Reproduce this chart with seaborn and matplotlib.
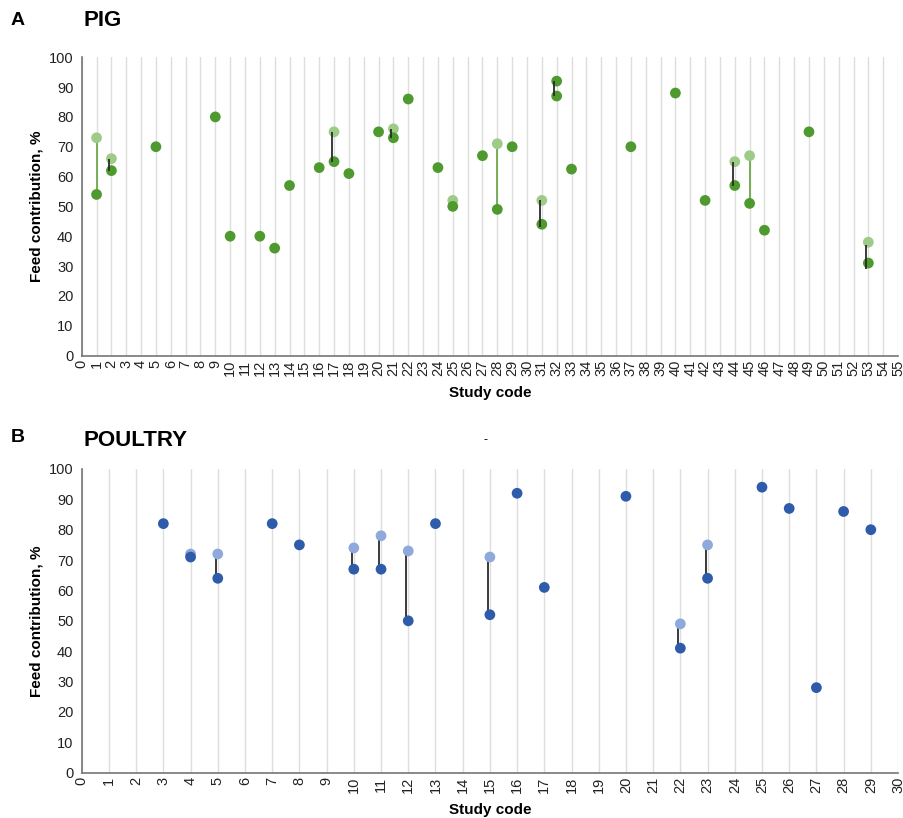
import numpy as np
import pandas as pd
import seaborn as sns
import matplotlib.pyplot as plt

# ---- PIG data (study code, feed contribution %) ----
pig_codes = [1, 2, 5, 9, 10, 12, 13, 14, 16, 17, 18, 20, 21, 22, 24, 25, 27, 28, 29,
             31, 32, 32, 33, 37, 40, 42, 44, 45, 46, 49, 53]
pig_values = [54, 62, 70, 80, 40, 40, 36, 57, 63, 65, 61, 75, 73, 86, 63, 50, 67, 49, 70,
              44, 87, 92, 62.5, 70, 88, 52, 57, 51, 42, 75, 31]
pig_alt_codes = [1, 2, 17, 21, 25, 28, 31, 44, 45, 53]
pig_alt_values = [73, 66, 75, 76, 52, 71, 52, 65, 67, 38]
pig_link_codes = [1, 2, 17, 21, 28, 31, 32, 44, 45, 53]
pig_link_lo = [54, 62, 65, 73, 49, 43, 87, 57, 51, 29]
pig_link_hi = [73, 66, 75, 76, 71, 52, 92, 65, 67, 37]
pig_link_black = [False, True, True, True, False, True, True, True, False, True]

# ---- POULTRY data ----
poultry_codes = [3, 4, 5, 7, 8, 10, 11, 12, 13, 15, 16, 17, 20, 22, 23, 25, 26, 27, 28, 29]
poultry_values = [82, 71, 64, 82, 75, 67, 67, 50, 82, 52, 92, 61, 91, 41, 64, 94, 87, 28, 86, 80]
poultry_alt_codes = [4, 5, 10, 11, 12, 15, 22, 23]
poultry_alt_values = [72, 72, 74, 78, 73, 71, 49, 75]
poultry_link_codes = [5, 10, 11, 12, 15, 22, 23]
poultry_link_lo = [64, 67, 67, 50, 52, 41, 64]
poultry_link_hi = [72, 74, 78, 73, 71, 49, 75]

GREEN_DARK = '#4f9a2f'
GREEN_LIGHT = '#9fcb88'
GREEN_LINE = '#6fa84c'
BLUE_DARK = '#2f5caa'
BLUE_LIGHT = '#8fa9dc'
LINK_BLACK = '#2b2b2b'

sns.set_style('white')
plt.rcParams['font.family'] = ['Liberation Sans', 'DejaVu Sans']
plt.rcParams['text.color'] = 'black'
plt.rcParams['axes.labelcolor'] = 'black'
plt.rcParams['xtick.color'] = '#222222'
plt.rcParams['ytick.color'] = '#222222'

fig = plt.figure(figsize=(9.04, 8.18), dpi=100)
ax1 = fig.add_axes([0.0904, 0.5654, 0.9030, 0.3646])
ax2 = fig.add_axes([0.0904, 0.0554, 0.9030, 0.3713])


def style_axis(ax, xmax):
    ax.set_xlim(0, xmax)
    ax.set_ylim(0, 100)
    ax.set_yticks(np.arange(0, 101, 10))
    ax.set_xticks(np.arange(0, xmax + 1))
    ax.set_xticklabels([str(i) for i in range(xmax + 1)], rotation=90, fontsize=10.5)
    ax.tick_params(axis='y', labelsize=10.5, length=0, pad=6)
    ax.tick_params(axis='x', length=0, pad=3)
    ax.grid(axis='x', color='#dedede', linewidth=1)
    ax.grid(axis='y', visible=False)
    ax.set_axisbelow(True)
    for s in ['top', 'right']:
        ax.spines[s].set_visible(False)
    for s in ['left', 'bottom']:
        ax.spines[s].set_color('#767676')
        ax.spines[s].set_linewidth(1.2)
    ax.set_xlabel('Study code', fontsize=11, fontweight='bold', labelpad=7)
    ax.set_ylabel('Feed contribution, %', fontsize=11, fontweight='bold', labelpad=4)


# PIG panel
for c, lo, hi, blk in zip(pig_link_codes, pig_link_lo, pig_link_hi, pig_link_black):
    if blk:
        ax1.vlines(c - 0.15, lo, hi, color=LINK_BLACK, linewidth=1.3, zorder=4)
    else:
        ax1.vlines(c, lo, hi, color=GREEN_LINE, linewidth=1.3, zorder=2)
sns.scatterplot(x=pig_alt_codes, y=pig_alt_values, ax=ax1, color=GREEN_LIGHT, s=60,
                edgecolor='none', zorder=3)
sns.scatterplot(x=pig_codes, y=pig_values, ax=ax1, color=GREEN_DARK, s=60,
                edgecolor='none', zorder=3)
style_axis(ax1, 55)

# POULTRY panel
for c, lo, hi in zip(poultry_link_codes, poultry_link_lo, poultry_link_hi):
    ax2.vlines(c - 0.07, lo, hi, color=LINK_BLACK, linewidth=1.3, zorder=2)
sns.scatterplot(x=poultry_alt_codes, y=poultry_alt_values, ax=ax2, color=BLUE_LIGHT, s=60,
                edgecolor='none', zorder=3)
sns.scatterplot(x=poultry_codes, y=poultry_values, ax=ax2, color=BLUE_DARK, s=60,
                edgecolor='none', zorder=3)
style_axis(ax2, 30)

fig.text(0.012, 0.975, 'A', fontsize=14, fontweight='bold', va='center')
fig.text(0.092, 0.975, 'PIG', fontsize=16, fontweight='bold', va='center')
fig.text(0.012, 0.465, 'B', fontsize=14, fontweight='bold', va='center')
fig.text(0.092, 0.462, 'POULTRY', fontsize=16, fontweight='bold', va='center')
fig.text(0.535, 0.462, '-', fontsize=9, va='center')

fig.savefig('out.png', dpi=100)
